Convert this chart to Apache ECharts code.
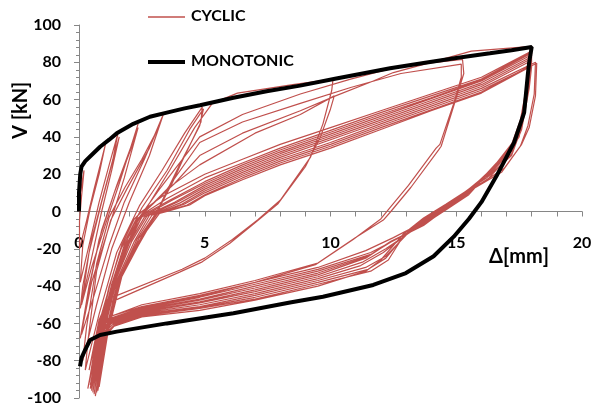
<!DOCTYPE html>
<html><head><meta charset="utf-8">
<script src="https://cdn.jsdelivr.net/npm/echarts@6/dist/echarts.min.js"></script>
<style>html,body{margin:0;padding:0;background:#fff}#c{width:594px;height:411px}</style>
</head><body><div id="c"></div>
<script>
// ---- data ----
const xTicks = [0, 5, 10, 15, 20];
const yTicks = [-100, -80, -60, -40, -20, 0, 20, 40, 60, 80, 100];
const seriesNames = ['CYCLIC', 'MONOTONIC'];

const monotonic = [[0,0],[0,10],[0.05,20],[0.1,24],[0.25,27],[0.44,29.5],[0.84,34.7],[1.2,38.5],[1.5,41.9],[2.16,47],[2.82,50.8],[3.49,53],[4.2,55.3],[4.81,57],[6.14,61],[7.46,64.5],[8.79,67.5],[10.18,71.2],[12.37,76.8],[13.7,79.6],[15.0,82.3],[16.34,84.8],[17.2,86.5],[18.0,88.2],[17.9,80],[17.85,74],[17.7,53],[17.3,37],[16.6,19],[16.0,5],[15.5,-4],[14.9,-13.5],[14.1,-24],[13.0,-33],[11.7,-39.4],[9.7,-45.7],[8.39,-48.8],[6.14,-54.6],[3.49,-60],[1.5,-64.4],[0.84,-66.2],[0.44,-68.9],[0.24,-74.3],[0.1,-78.5],[0.04,-83]];

const cyclicSmall = [[0,0],[0.05,10],[0.2,22],[0.1,8],[0.02,-5],[0.02,-20],
 [0.3,-5],[0.6,12],[0.9,28],[1.05,36],[0.8,20],[0.45,2],[0.15,-18],[0.05,-38],
 [0.4,-18],[0.8,5],[1.2,25],[1.55,42],[1.35,28],[0.95,8],[0.5,-15],[0.15,-40],[0.05,-52],
 [0.5,-25],[0.9,0],[1.3,22],[1.6,40],[1.3,25],[0.9,5],[0.4,-22],[0.1,-50],
 [0.5,-30],[1.1,-5],[1.6,15],[2.0,32],[2.35,47],[2.1,36],[1.5,14],[0.9,-10],[0.4,-40],[0.05,-68],
 [0.5,-38],[1.2,-8],[1.8,18],[2.35,45],[2.05,33],[1.4,10],[0.8,-15],[0.35,-45],[0.1,-66],
 [0.6,-45],[1.2,-18],[1.8,5],[2.6,28],[3.35,52],[3.2,46],[2.5,28],[1.83,13],[1.2,-3],[0.7,-28],[0.3,-62],[0.15,-80],
 [0.7,-50],[1.3,-20],[2.0,5],[2.8,30],[3.3,50],[2.8,34],[1.9,12],[1.25,-5],[0.7,-32],[0.35,-70],[0.25,-85],
 [0.8,-55],[1.5,-22],[2.4,3],[3.3,22],[4.2,42],[4.9,56],[4.85,48],[4.1,27],[3.7,15],[3.0,-3],[2.2,-22],[1.4,-40],[0.8,-58],[0.4,-85],
 [0.9,-55],[1.6,-22],[2.5,2],[3.5,22],[4.4,44],[4.95,55],[4.8,46],[4.0,25],[3.1,0],[2.2,-20],[1.4,-42],[0.8,-60],[0.45,-88]];

const cyclic10 = [[0.9,-60],[1.6,-28],[2.6,0],[3.6,22],[4.6,45],[5.3,58],[6.3,63.5],[8.5,68],[10.1,71],[10.05,65],[9.7,47],[9.2,29],[8.0,6],[7.1,-4.5],[6.1,-15],[5.0,-25],[4.1,-31],[1.15,-47],[0.6,-75],[0.4,-92],
 [0.8,-65],[1.5,-32],[2.4,-3],[3.5,12],[4.8,25],[7,42],[8.8,52],[10.15,62],[10.0,55],[9.6,40],[9.0,24],[7.9,4],[7.0,-6],[6.0,-17],[4.9,-27],[4.0,-32.5],[1.2,-49],[0.6,-80],[0.35,-95]];

const cyclic15 = [[0.7,-70],[1.4,-35],[2.3,-5],[3.2,12],[4.8,40],[6.5,52],[8.8,63],[10.8,71],[12.8,78],[15.25,81.5],[15.3,74],[15.0,61],[14.4,35],[14.3,33],[13.2,13],[12.4,0],[12.1,-4.6],[11,-14],[9.5,-27.6],[7,-37],[4.8,-44],[2.5,-50],[1.3,-56],[0.8,-62],[0.45,-95],
 [0.75,-72],[1.5,-33],[2.4,-3],[3.4,10],[4.8,37],[6.5,48],[8.8,58],[10.8,66.5],[12.8,74],[15.2,79],[15.2,72],[14.95,60],[14.35,36],[14.2,34],[13.1,14],[12.3,1],[12.0,-4],[10.9,-15],[9.4,-28.5],[7,-38],[4.8,-45.5],[2.5,-51.5],[1.3,-57],[0.85,-63],[0.5,-93]];

const cyclic18 = [[0.8,-68],[1.3,-40],[2.0,-12],[2.6,0],[3.8,15],[4.8,30],[6.5,42],[8.8,54],[10.2,62],[11.7,70],[12.5,74.5],[14,80],[15.6,86],[18.0,88.5],[17.95,75],[17.7,55],[17.5,40],[17.0,30],[16.3,20],[15.2,8],[14.6,2],[13.8,-5],[12.5,-14],[11.4,-21],[9.5,-30],[7,-38],[4.8,-45],[2.5,-51],[1.3,-56],[0.9,-60],[0.55,-92],
 [0.85,-62],[1.25,-38],[1.7,-18],[2.2,-4],[2.5,0],[3.3,8],[5,20],[6.5,28],[8,36],[10,45],[12,54],[14,63],[16,72],[18,86],[17.9,74],[17.65,52],[17.35,39],[16.7,27],[15.5,9],[14.6,1],[13.7,-7],[12.6,-15],[11.6,-22],[9.5,-31],[7,-39],[4.8,-46],[2.5,-52],[1.3,-57],[0.9,-61],[0.5,-90],
 [0.8,-63],[1.2,-40],[1.7,-19],[2.3,-4],[2.7,0],[3.5,7],[5,18],[6.5,26],[8,34],[10,43.5],[12,53],[14,62],[16,71],[18,85.5],[17.85,73],[17.6,51],[17.3,38],[16.6,26],[15.4,8.5],[14.5,0.5],[13.7,-7.5],[12.5,-15.5],[11.6,-23],[9.5,-32],[7,-40],[4.8,-47],[2.5,-52.5],[1.3,-57.5],[0.9,-61.5],[0.45,-93],
 [0.85,-64],[1.3,-39],[1.8,-18],[2.4,-3],[2.8,0],[3.6,6],[5,16],[6.5,25],[8,33],[10,42.5],[12,52],[14,61],[16,70.5],[18,85],[17.9,72],[17.6,50],[17.3,37],[16.6,25],[15.3,8],[14.4,0],[13.6,-8],[12.4,-16],[11.5,-24],[9.5,-33],[7,-41],[4.8,-47.5],[2.5,-53],[1.25,-58],[0.85,-62],[0.5,-95],
 [0.9,-63],[1.35,-38],[1.9,-17],[2.5,-3],[2.9,0],[3.7,6],[5,15],[6.5,24],[8,32],[10,41.5],[12,51],[14,60.5],[16,70],[18,84],[17.85,71],[17.55,49],[17.2,36],[16.5,24],[15.2,7.5],[14.3,-0.5],[13.5,-8.5],[12.3,-17],[11.4,-25],[9.5,-34],[7,-42],[4.8,-48.5],[2.5,-53.5],[1.3,-58.5],[0.9,-63],[0.5,-96],
 [0.9,-65],[1.4,-38],[2.0,-17],[2.6,-3],[3.0,0],[3.8,5],[5,14],[6.5,23],[8,31],[10,40.5],[12,50],[14,59.5],[16,69],[18,83],[17.9,70],[17.6,48],[17.25,35],[16.5,23],[15.1,7],[14.2,-1],[13.4,-9],[12.2,-20],[11.3,-27],[9.5,-35],[7,-43],[4.8,-49],[2.5,-54],[1.3,-59],[0.9,-63.5],[0.55,-97],
 [0.95,-64],[1.45,-37],[2.1,-16],[2.7,-2.5],[3.1,0],[3.9,5],[5,13],[6.5,22],[8,30],[10,39.5],[12,49],[14,58.5],[16,68],[18,82],[17.85,69],[17.55,47],[17.2,34],[16.4,22],[15.0,6.5],[14.1,-1.5],[13.3,-9.5],[12.1,-22],[11.2,-29],[9.5,-36],[7,-44],[4.8,-50],[2.5,-54.5],[1.3,-59.5],[0.95,-64],[0.6,-98],
 [1.0,-64],[1.5,-37],[2.2,-16],[2.8,-2],[3.2,0],[4.0,4.5],[5,12],[6.5,21],[8,29],[10,38.5],[12,48],[14,57.5],[16,67],[18,81],[17.9,68],[17.6,46],[17.25,33],[16.4,21],[14.9,6],[14.0,-2],[13.2,-10],[12.2,-24],[11.4,-30],[9.5,-37],[7,-45],[4.8,-51],[2.5,-55],[1.3,-60],[1.0,-64.5],[0.65,-99],
 [1.05,-65],[1.55,-37],[2.3,-15],[2.9,-2],[3.3,0],[4.1,4],[5,11],[6.5,20],[8,28],[10,37],[12,47],[14,56.5],[16,66],[18.15,80],[18.1,63],[17.85,46],[17.55,35],[16.9,23],[14.8,5],[13.9,-2.5],[13.1,-10.5],[12.2,-25],[11.5,-31],[9.5,-38],[7,-46],[4.8,-51.5],[2.5,-55.5],[1.35,-60.5],[1.0,-65],[0.7,-97],
 [1.1,-64],[1.6,-36],[2.4,-14],[3.0,-2],[3.35,0],[4.2,4],[5,10],[6.5,19],[8,27],[10,36],[12,46],[14,55.5],[16,65],[18.2,79.5],[18.15,62],[17.9,45],[17.6,36],[16.8,21],[14.7,4.5],[13.8,-3],[13.0,-11],[12.3,-26],[11.6,-32],[9.5,-39],[7,-47],[4.8,-52],[2.5,-56],[1.4,-61],[1.05,-65.5],[0.75,-96],
 [1.1,-66],[1.65,-36],[2.5,-13],[3.1,-1.5],[3.4,0],[4.3,3.5],[5,9],[6.5,18],[8,26],[10,35],[12,45],[14,54.5],[16,64],[18,78.5],[17.85,65],[17.55,43],[17.2,30],[16.2,18],[14.6,4],[13.7,-3.5],[12.9,-12],[12.0,-26],[11.4,-32],[9.5,-40],[7,-47.5],[4.8,-53],[2.5,-56.5],[1.4,-61.5],[1.1,-66],[0.8,-94],
 [1.15,-65],[1.7,-35],[2.6,-12],[3.2,-1],[3.5,0],[4.4,3.5],[5,8.5],[6.5,17],[8,25],[10,34],[12,44],[14,54],[16,63.5],[18,78],[17.9,66],[17.6,44],[17.2,31],[16.3,18]];

const cyclic = cyclicSmall.concat(cyclic10, cyclic15, cyclic18);

const FONT = 'Lato';
const RED = '#c0504d';
const GRID = {left: 79, right: 12, top: 25, bottom: 13};
const PLOT_H = 411 - GRID.top - GRID.bottom;
const chart = echarts.init(document.getElementById('c'));
chart.setOption({
  animation: false,
  backgroundColor: '#fff',
  grid: Object.assign({containLabel: false, outerBoundsMode: 'none'}, GRID),
  xAxis: {
    type: 'value', min: xTicks[0], max: xTicks[xTicks.length - 1], interval: 5,
    position: 'bottom',
    offset: -PLOT_H / 2,  // the axis crosses the y axis at V = 0 (middle of the symmetric -100..100 range)
    axisLine: {onZero: false, lineStyle: {color: '#868686', width: 1}},
    axisTick: {show: true, length: 5, lineStyle: {color: '#868686'}},
    minorTick: {show: true, splitNumber: 5, length: 5, lineStyle: {color: '#868686'}},
    splitLine: {show: false},
    axisLabel: {margin: 23, fontFamily: FONT, fontWeight: 'bold', fontSize: 16, color: '#000',
      showMinLabel: true, showMaxLabel: true}
  },
  yAxis: {
    type: 'value', min: yTicks[0], max: yTicks[yTicks.length - 1], interval: 20,
    axisLine: {show: true, onZero: false, lineStyle: {color: '#868686', width: 1}},
    axisTick: {show: true, length: 5, lineStyle: {color: '#868686'}},
    minorTick: {show: true, splitNumber: 5, length: 3, lineStyle: {color: '#868686'}},
    splitLine: {show: false},
    axisLabel: {margin: 18, fontFamily: FONT, fontWeight: 'bold', fontSize: 16, color: '#000'}
  },
  graphic: [
    {type: 'line', shape: {x1: 148, y1: 17, x2: 185, y2: 17}, style: {stroke: RED, lineWidth: 1.3}},
    {type: 'text', left: 191, top: 8, style: {text: seriesNames[0], fontFamily: FONT, fontWeight: 'bold', fontSize: 16, fill: '#000'}},
    {type: 'line', shape: {x1: 148, y1: 62, x2: 185, y2: 62}, style: {stroke: '#000', lineWidth: 4}},
    {type: 'text', left: 191, top: 53, style: {text: seriesNames[1], fontFamily: FONT, fontWeight: 'bold', fontSize: 16, fill: '#000'}},
    {type: 'text', left: 489, top: 247, style: {text: 'Δ[mm]', fontFamily: FONT, fontWeight: 'bold', fontSize: 20, fill: '#000'}},
    {type: 'text', x: 11, y: 139, rotation: Math.PI / 2, style: {text: 'V [kN]', fontFamily: FONT, fontWeight: 'bold', fontSize: 20, fill: '#000'}}
  ],
  series: [
    {name: seriesNames[0], type: 'line', data: cyclic, symbol: 'none', showSymbol: false,
     lineStyle: {color: RED, width: 1.2}, itemStyle: {color: RED}, z: 2},
    {name: seriesNames[1], type: 'line', data: monotonic, symbol: 'none', showSymbol: false,
     lineStyle: {color: '#000', width: 4}, itemStyle: {color: '#000'}, z: 3}
  ]
});
</script></body></html>
